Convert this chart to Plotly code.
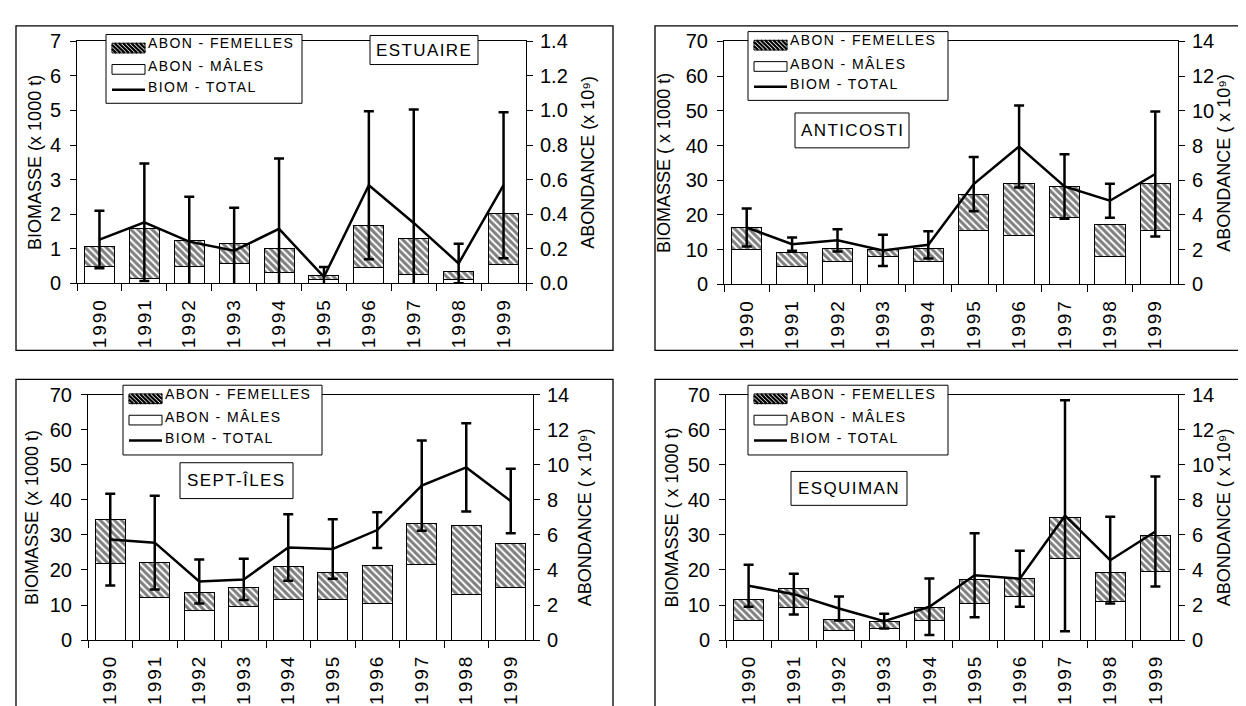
import plotly.graph_objects as go

W, H = 1246, 706

years = ['1990', '1991', '1992', '1993', '1994', '1995', '1996', '1997', '1998', '1999']

# ---- ESTUAIRE (biomass x1000 t, abundance x10^9)
est_biom = [1.27, 1.77, 1.21, 0.95, 1.58, 0.19, 2.84, 1.75, 0.58, 2.84]
est_biom_err = [0.83, 1.70, 1.30, 1.24, 2.03, 0.29, 2.14, 3.28, 0.57, 2.11]
est_males = [0.096, 0.026, 0.096, 0.118, 0.062, 0.022, 0.090, 0.052, 0.022, 0.112]
est_femelles = [0.116, 0.294, 0.150, 0.116, 0.138, 0.022, 0.246, 0.208, 0.048, 0.290]

# ---- ANTICOSTI
ant_biom = [16.4, 11.6, 12.7, 9.8, 11.4, 28.9, 39.7, 28.2, 24.1, 31.8]
ant_biom_err = [5.5, 1.9, 3.2, 4.5, 3.9, 7.8, 11.8, 9.3, 4.9, 18.0]
ant_males = [2.02, 1.02, 1.34, 1.60, 1.34, 3.08, 2.84, 3.84, 1.60, 3.08]
ant_femelles = [1.24, 0.84, 0.74, 0.42, 0.74, 2.08, 2.96, 1.82, 1.88, 2.72]

# ---- SEPT-ILES
sep_biom = [28.7, 27.8, 16.7, 17.3, 26.4, 26.0, 31.4, 44.1, 49.3, 39.7]
sep_biom_err = [13.1, 13.4, 6.3, 5.9, 9.5, 8.5, 5.1, 12.9, 12.6, 9.2]
sep_males = [4.38, 2.42, 1.66, 1.92, 2.30, 2.34, 2.08, 4.32, 2.62, 3.00]
sep_femelles = [2.50, 2.00, 1.08, 1.10, 1.92, 1.50, 2.20, 2.36, 3.90, 2.54]

# ---- ESQUIMAN
esq_biom = [15.5, 13.1, 9.0, 5.4, 9.5, 18.5, 17.5, 35.5, 22.8, 31.0]
esq_biom_err = [6.0, 5.8, 3.4, 2.1, 8.1, 12.0, 8.0, 33.0, 12.4, 15.7]
esq_males = [1.14, 1.86, 0.54, 0.66, 1.14, 2.08, 2.50, 4.68, 2.20, 3.90]
esq_femelles = [1.18, 1.10, 0.64, 0.40, 0.70, 1.38, 1.02, 2.30, 1.66, 2.06]

left_ticks_est = [0, 1, 2, 3, 4, 5, 6, 7]
right_ticks_est = [0.0, 0.2, 0.4, 0.6, 0.8, 1.0, 1.2, 1.4]
left_ticks = [0, 10, 20, 30, 40, 50, 60, 70]
right_ticks = [0, 2, 4, 6, 8, 10, 12, 14]

FONT = "Liberation Sans, Arial, sans-serif"


def sp(text, ls):
    return f'<span style="letter-spacing:{ls}px">{text}</span>'


def X(px):
    return px / W


def Y(py):
    return 1 - py / H


panels = [
    dict(name='ESTUAIRE', biom=est_biom, err=est_biom_err, males=est_males, fem=est_femelles,
         lticks=left_ticks_est, rticks=right_ticks_est, lrange=[0, 7], rrange=[0, 1.4], rfmt='.1f',
         plot=(69, 23, 518, 273), frame=(8, 7, 605, 342), legend=(98, 16, 294, 87),
         tbox=(362, 17, 470, 47), lstand=3, rstand=14,
         lt='BIOMASSE (x 1000 t)', rt='ABONDANCE (x 10⁹)'),
    dict(name='ANTICOSTI', biom=ant_biom, err=ant_biom_err, males=ant_males, fem=ant_femelles,
         lticks=left_ticks, rticks=right_ticks, lrange=[0, 70], rrange=[0, 14], rfmt='d',
         plot=(716, 23, 1170, 274), frame=(647, 7, 1244, 342), legend=(740, 13, 940, 84),
         tbox=(787, 97, 901, 133), lstand=10, rstand=3,
         lt='BIOMASSE ( x 1000 t)', rt='ABONDANCE ( x 10⁹)'),
    dict(name='SEPT-ÎLES', biom=sep_biom, err=sep_biom_err, males=sep_males, fem=sep_femelles,
         lticks=left_ticks, rticks=right_ticks, lrange=[0, 70], rrange=[0, 14], rfmt='d',
         plot=(80, 388, 525, 641), frame=(8, 372, 605, 712), legend=(115, 378, 314, 450),
         tbox=(172, 458, 285, 495), lstand=6, rstand=10,
         lt='BIOMASSE (x 1000 t)', rt='ABONDANCE ( x 10⁹)'),
    dict(name='ESQUIMAN', biom=esq_biom, err=esq_biom_err, males=esq_males, fem=esq_femelles,
         lticks=left_ticks, rticks=right_ticks, lrange=[0, 70], rrange=[0, 14], rfmt='d',
         plot=(718, 388, 1170, 641), frame=(647, 372, 1244, 712), legend=(740, 378, 940, 450),
         tbox=(783, 467, 899, 502), lstand=4, rstand=3,
         lt='BIOMASSE ( x 1000 t)', rt='ABONDANCE ( x 10⁹)'),
]

fig = go.Figure()
layout = dict(
    width=W, height=H, margin=dict(l=0, r=0, t=0, b=0),
    paper_bgcolor='white', plot_bgcolor='rgba(0,0,0,0)',
    showlegend=False, barmode='stack', bargap=0.33,
    font=dict(family=FONT, color='black', size=18),
)
shapes = []
annotations = []


def hatch_path(x0, y0, x1, y1, step=4.2):
    h = y1 - y0
    segs = []
    t = x0 - h
    while t < x1:
        sx, sy = t, y0
        ex, ey = t + h, y1
        if sx < x0:
            sy = y0 + (x0 - sx)
            sx = x0
        if ex > x1:
            ey = y0 + (x1 - t)
            ex = x1
        if ex > sx:
            segs.append(f"M{X(sx):.5f},{Y(sy):.5f} L{X(ex):.5f},{Y(ey):.5f}")
        t += step
    return " ".join(segs)


for i, p in enumerate(panels, start=1):
    xa = 'x' if i == 1 else f'x{i}'
    yb_n = 2 * i - 1
    yl_n = 2 * i
    yb = 'y' if yb_n == 1 else f'y{yb_n}'
    yl = f'y{yl_n}'
    x0, y0, x1, y1 = p['plot']

    fig.add_trace(go.Bar(
        x=years, y=p['males'], xaxis=xa, yaxis=yb, name='ABON - MÂLES',
        marker=dict(color='white', line=dict(color='black', width=1)),
    ))
    fig.add_trace(go.Bar(
        x=years, y=p['fem'], xaxis=xa, yaxis=yb, name='ABON - FEMELLES',
        marker=dict(color='white', line=dict(color='black', width=1),
                    pattern=dict(shape='\\', fgcolor='black', bgcolor='white', size=5, solidity=0.6)),
    ))
    fig.add_trace(go.Scatter(
        x=years, y=p['biom'], xaxis=xa, yaxis=yl, name='BIOM - TOTAL', mode='lines',
        line=dict(color='black', width=2.5),
        error_y=dict(type='data', array=p['err'], symmetric=True, color='black', thickness=2.5, width=5),
    ))

    xkey = 'xaxis' if i == 1 else f'xaxis{i}'
    ybkey = 'yaxis' if yb_n == 1 else f'yaxis{yb_n}'
    ylkey = f'yaxis{yl_n}'
    layout[xkey] = dict(
        domain=[X(x0), X(x1)], anchor=yb, type='category',
        tickvals=years, ticktext=[sp(y, 2) for y in years],
        tickangle=-90, ticks='outside', ticklen=7, tickson='boundaries', tickcolor='black',
        showline=True, linecolor='black', linewidth=1, mirror=True, showgrid=False,
        tickfont=dict(size=19, family=FONT), ticklabelstandoff=6, fixedrange=True,
    )
    layout[ybkey] = dict(
        domain=[Y(y1), Y(y0)], anchor=xa, side='right', range=p['rrange'],
        tickvals=p['rticks'], tickformat=p['rfmt'], ticks='outside', ticklen=6, tickcolor='black',
        showline=True, linecolor='black', linewidth=1, showgrid=False, zeroline=False,
        tickfont=dict(size=20, family=FONT), ticklabelstandoff=3,
        title=dict(text=p['rt'], font=dict(size=18, family=FONT), standoff=p['rstand']),
    )
    layout[ylkey] = dict(
        domain=[Y(y1), Y(y0)], anchor=xa, overlaying=yb, side='left', range=p['lrange'],
        tickvals=p['lticks'], ticks='outside', ticklen=6, tickcolor='black',
        showline=True, linecolor='black', linewidth=1, showgrid=False, zeroline=False,
        tickfont=dict(size=20, family=FONT), ticklabelstandoff=5,
        title=dict(text=p['lt'], font=dict(size=18, family=FONT), standoff=p['lstand']),
    )

    # panel frame
    fx0, fy0, fx1, fy1 = p['frame']
    shapes.append(dict(type='rect', xref='paper', yref='paper', x0=X(fx0), x1=X(fx1), y0=Y(fy1), y1=Y(fy0),
                       line=dict(color='black', width=1.3), fillcolor='rgba(0,0,0,0)', layer='above'))

    # legend box
    lx0, ly0, lx1, ly1 = p['legend']
    shapes.append(dict(type='rect', xref='paper', yref='paper', x0=X(lx0), x1=X(lx1), y0=Y(ly1), y1=Y(ly0),
                       line=dict(color='black', width=1), fillcolor='white', layer='above'))
    # hatched patch
    shapes.append(dict(type='rect', xref='paper', yref='paper', x0=X(lx0 + 6), x1=X(lx0 + 39),
                       y0=Y(ly0 + 19), y1=Y(ly0 + 9), line=dict(color='black', width=1),
                       fillcolor='white', layer='above'))
    shapes.append(dict(type='path', xref='paper', yref='paper',
                       path=hatch_path(lx0 + 6, ly0 + 9, lx0 + 39, ly0 + 19),
                       line=dict(color='black', width=2.2), layer='above'))
    # white patch
    shapes.append(dict(type='rect', xref='paper', yref='paper', x0=X(lx0 + 6), x1=X(lx0 + 39),
                       y0=Y(ly0 + 41), y1=Y(ly0 + 31), line=dict(color='black', width=1),
                       fillcolor='white', layer='above'))
    # line
    shapes.append(dict(type='line', xref='paper', yref='paper', x0=X(lx0 + 6), x1=X(lx0 + 39),
                       y0=Y(ly0 + 57), y1=Y(ly0 + 57), line=dict(color='black', width=2.5), layer='above'))
    for txt, dy in [('ABON - FEMELLES', 9), ('ABON - MÂLES', 33), ('BIOM - TOTAL', 54)]:
        annotations.append(dict(xref='paper', yref='paper', x=X(lx0 + 40), y=Y(ly0 + dy),
                                text=sp(txt, 1.4), showarrow=False, xanchor='left', yanchor='middle',
                                font=dict(size=14, family=FONT)))

    # title box
    tx0, ty0, tx1, ty1 = p['tbox']
    shapes.append(dict(type='rect', xref='paper', yref='paper', x0=X(tx0), x1=X(tx1), y0=Y(ty1), y1=Y(ty0),
                       line=dict(color='black', width=1), fillcolor='white', layer='above'))
    annotations.append(dict(xref='paper', yref='paper', x=X((tx0 + tx1) / 2), y=Y((ty0 + ty1) / 2),
                            text=sp(p['name'], 1.4), showarrow=False, xanchor='center', yanchor='middle',
                            font=dict(size=17, family=FONT)))

layout['shapes'] = shapes
layout['annotations'] = annotations
fig.update_layout(**layout)
fig.write_html("out.html")
